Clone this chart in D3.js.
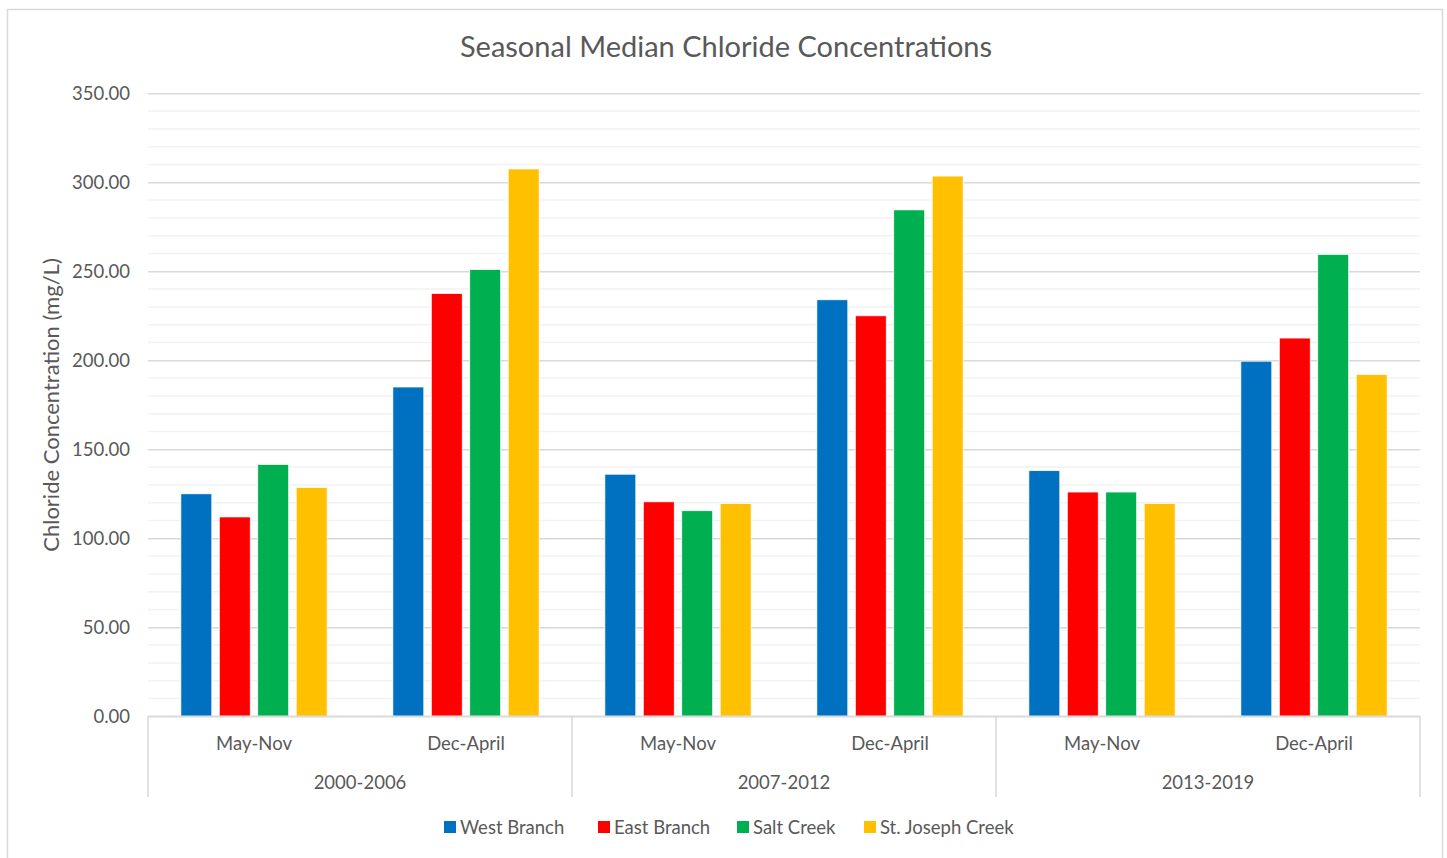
<!DOCTYPE html>
<html>
<head>
<meta charset="utf-8">
<script src="https://cdn.jsdelivr.net/npm/d3@7"></script>
<style>
  html, body { margin: 0; padding: 0; background: #fff; }
  svg { display: block; font-family: Lato, "Open Sans", sans-serif; }
</style>
</head>
<body>
<svg id="chart" width="1447" height="858"></svg>
<script>
// Period groups and seasons within each period
const periods = ["2000-2006", "2007-2012", "2013-2019"];
const seasons = ["May-Nov", "Dec-April"];
const seriesNames = ["West Branch", "East Branch", "Salt Creek", "St. Joseph Creek"];
const seriesColors = ["#0070C0", "#FF0000", "#00B050", "#FFC000"];

// Median chloride (mg/L), one value per period/season, in period order
const westBranch = [125, 185, 136, 234, 138, 199.5];
const eastBranch = [112, 237.5, 120.5, 225, 126, 212.5];
const saltCreek = [141.5, 251, 115.5, 284.5, 126, 259.5];
const stJosephCreek = [128.5, 307.5, 119.5, 303.5, 119.5, 192];

const yTicks = [0, 50, 100, 150, 200, 250, 300, 350];

const seriesValues = [westBranch, eastBranch, saltCreek, stJosephCreek];

const svg = d3.select("#chart");
const margin = { left: 148, right: 1420, top: 93.3, bottom: 716.3 };
const labelSize = "18.5px";

// Outer chart frame
svg.append("rect")
  .attr("x", 7.5).attr("y", 9.5)
  .attr("width", 1435).attr("height", 860)
  .attr("fill", "none").attr("stroke", "#d9d9d9").attr("stroke-width", 1.5);

const slots = [];
periods.forEach(p => seasons.forEach(s => slots.push(p + "|" + s)));

const x0 = d3.scaleBand().domain(slots).range([margin.left, margin.right])
  .paddingInner(0.31).paddingOuter(0.155);
const x1 = d3.scaleBand().domain(seriesNames).range([0, x0.bandwidth()])
  .paddingInner(0.195).paddingOuter(0);
const y = d3.scaleLinear().domain([0, 350]).range([margin.bottom, margin.top]);

// Minor gridlines every 10
const minor = d3.range(10, 350, 10).filter(v => v % 50 !== 0);
svg.append("g").selectAll("line").data(minor).join("line")
  .attr("x1", margin.left).attr("x2", margin.right)
  .attr("y1", d => y(d)).attr("y2", d => y(d))
  .attr("stroke", "#f2f2f2").attr("stroke-width", 1.5);

// Major gridlines and tick labels
const yAxis = d3.axisLeft(y).tickValues(yTicks).tickFormat(d3.format(".2f"))
  .tickSize(-(margin.right - margin.left)).tickPadding(18);
const gy = svg.append("g").attr("transform", `translate(${margin.left},0)`).call(yAxis);
gy.select(".domain").remove();
gy.selectAll(".tick line").attr("stroke", "#d9d9d9").attr("stroke-width", 1.5);
gy.selectAll(".tick text").attr("fill", "#595959").style("font-size", labelSize)
  .style("font-family", "Lato, sans-serif");

// Bars
const rows = [];
slots.forEach((slot, i) => seriesNames.forEach((name, j) => {
  rows.push({ slot, name, value: seriesValues[j][i], color: seriesColors[j] });
}));
svg.append("g").selectAll("rect").data(rows).join("rect")
  .attr("x", d => x0(d.slot) + x1(d.name))
  .attr("width", x1.bandwidth())
  .attr("y", d => y(d.value))
  .attr("height", d => y(0) - y(d.value))
  .attr("fill", d => d.color)
  .attr("stroke", "#fff").attr("stroke-width", 0.75);

// Category axis: baseline, separators, labels
const axisG = svg.append("g");
axisG.append("line")
  .attr("x1", margin.left).attr("x2", margin.right)
  .attr("y1", y(0)).attr("y2", y(0))
  .attr("stroke", "#d9d9d9").attr("stroke-width", 1.5);

const periodScale = d3.scaleBand().domain(periods).range([margin.left, margin.right]);
const seps = periods.map(p => periodScale(p)).concat([margin.right]);
axisG.selectAll("line.sep").data(seps).join("line").attr("class", "sep")
  .attr("x1", d => d).attr("x2", d => d)
  .attr("y1", y(0)).attr("y2", 797)
  .attr("stroke", "#d9d9d9").attr("stroke-width", 1.5);

axisG.selectAll("text.season").data(slots).join("text").attr("class", "season")
  .attr("x", d => x0(d) + x0.bandwidth() / 2)
  .attr("y", 750)
  .attr("text-anchor", "middle")
  .attr("fill", "#595959").style("font-size", labelSize)
  .text(d => d.split("|")[1]);

axisG.selectAll("text.period").data(periods).join("text").attr("class", "period")
  .attr("x", d => periodScale(d) + periodScale.bandwidth() / 2)
  .attr("y", 789)
  .attr("text-anchor", "middle")
  .attr("fill", "#595959").style("font-size", labelSize)
  .text(d => d);

// Title
svg.append("text")
  .attr("x", 726).attr("y", 57)
  .attr("text-anchor", "middle")
  .attr("fill", "#595959").style("font-size", "29px")
  .text("Seasonal Median Chloride Concentrations");

// Y axis title
svg.append("text")
  .attr("transform", `translate(59,405) rotate(-90)`)
  .attr("text-anchor", "middle")
  .attr("fill", "#595959").style("font-size", "22px")
  .text("Chloride Concentration (mg/L)");

// Legend
const legendX = [444, 598, 737, 864];
const legend = svg.append("g");
seriesNames.forEach((name, i) => {
  const g = legend.append("g").attr("transform", `translate(${legendX[i]},827)`);
  g.append("rect").attr("x", 0).attr("y", -6).attr("width", 12).attr("height", 12)
    .attr("fill", seriesColors[i]);
  g.append("text").attr("x", 16).attr("y", 6.5)
    .attr("fill", "#595959").style("font-size", labelSize)
    .text(name);
});
</script>
</body>
</html>
